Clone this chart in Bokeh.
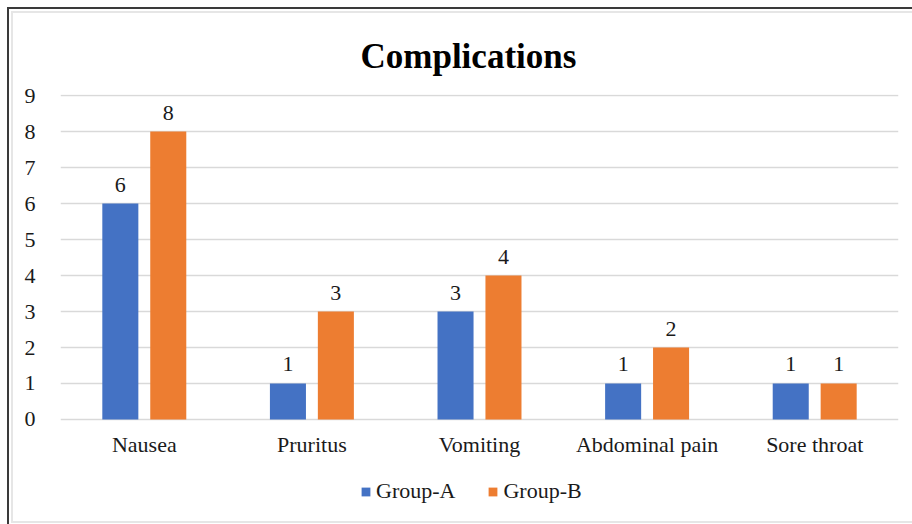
from bokeh.plotting import figure
from bokeh.models import (ColumnDataSource, FactorRange, Range1d, FixedTicker, LabelSet,
                          Legend, LegendItem)
from bokeh.transform import dodge
from bokeh.embed import file_html
from bokeh.resources import INLINE

categories = ["Nausea", "Pruritus", "Vomiting", "Abdominal pain", "Sore throat"]
group_a = [6, 1, 3, 1, 1]
group_b = [8, 3, 4, 2, 1]
y_ticks = [0, 1, 2, 3, 4, 5, 6, 7, 8, 9]

FONT = "Liberation Serif"
TXT = "#1a1a1a"
BLUE = "#4472C4"
ORANGE = "#ED7D31"

src = ColumnDataSource(dict(cat=categories, a=group_a, b=group_b))

# frame spans the plot and the legend strip; the value scale is 36 px per unit
p = figure(width=912, height=524, x_range=FactorRange(*categories, range_padding=0),
           y_range=Range1d(-2.64, 9.03), output_backend="svg", toolbar_location=None,
           min_border_left=60, min_border_right=14, min_border_top=94, min_border_bottom=10)

bg = ", ".join([
    "linear-gradient(#3a3a3a,#3a3a3a) 7px 7px / 2px 100% no-repeat",
    "linear-gradient(#3a3a3a,#3a3a3a) 7px 7px / 100% 2px no-repeat",
    "linear-gradient(#e6e6e6,#e6e6e6) 11px 11px / 2px 511px no-repeat",
    "linear-gradient(#e6e6e6,#e6e6e6) 11px 11px / 100% 2px no-repeat",
    "linear-gradient(#e6e6e6,#e6e6e6) 11px 521px / 100% 2px no-repeat",
    "white",
])
p.styles = {"background": bg}
p.border_fill_alpha = 0

p.title.text = "Complications"
p.title.text_font = FONT
p.title.text_font_size = "35px"
p.title.text_font_style = "bold"
p.title.text_color = "#000000"
p.title.align = "left"
p.title.offset = 300
p.title.standoff = 37

p.outline_line_color = None
p.background_fill_color = "white"
p.xgrid.grid_line_color = None
p.ygrid.grid_line_color = "#D9D9D9"
p.ygrid.grid_line_width = 1.5
p.yaxis.ticker = FixedTicker(ticks=y_ticks)
p.xaxis.fixed_location = 0

for ax in (p.xaxis[0], p.yaxis[0]):
    ax.axis_line_color = None
    ax.major_tick_line_color = None
    ax.minor_tick_line_color = None
    ax.major_label_text_font = FONT
    ax.major_label_text_color = TXT
    ax.major_label_text_font_size = "22px"
p.yaxis.major_label_standoff = 19
p.xaxis.major_label_standoff = 7

w = 0.215
ra = p.vbar(x=dodge("cat", -0.143, range=p.x_range), top="a", width=w, source=src,
            fill_color=BLUE, line_color=None)
rb = p.vbar(x=dodge("cat", 0.143, range=p.x_range), top="b", width=w, source=src,
            fill_color=ORANGE, line_color=None)

for col, off in (("a", -0.143), ("b", 0.143)):
    p.add_layout(LabelSet(x=dodge("cat", off, range=p.x_range), y=col, text=col, source=src,
                          y_offset=12, text_align="center", text_baseline="alphabetic",
                          text_font=FONT, text_font_size="22px", text_color=TXT))

legend = Legend(items=[LegendItem(label="Group-A", renderers=[ra]),
                       LegendItem(label="Group-B", renderers=[rb])],
                orientation="horizontal", location=(300, 10),
                label_text_font=FONT, label_text_font_size="22px", label_text_color=TXT,
                glyph_width=11, glyph_height=11, label_standoff=5, spacing=32,
                border_line_color=None, background_fill_alpha=0, margin=0, padding=0)
p.add_layout(legend)

open("out.html", "w").write(file_html(p, INLINE))
